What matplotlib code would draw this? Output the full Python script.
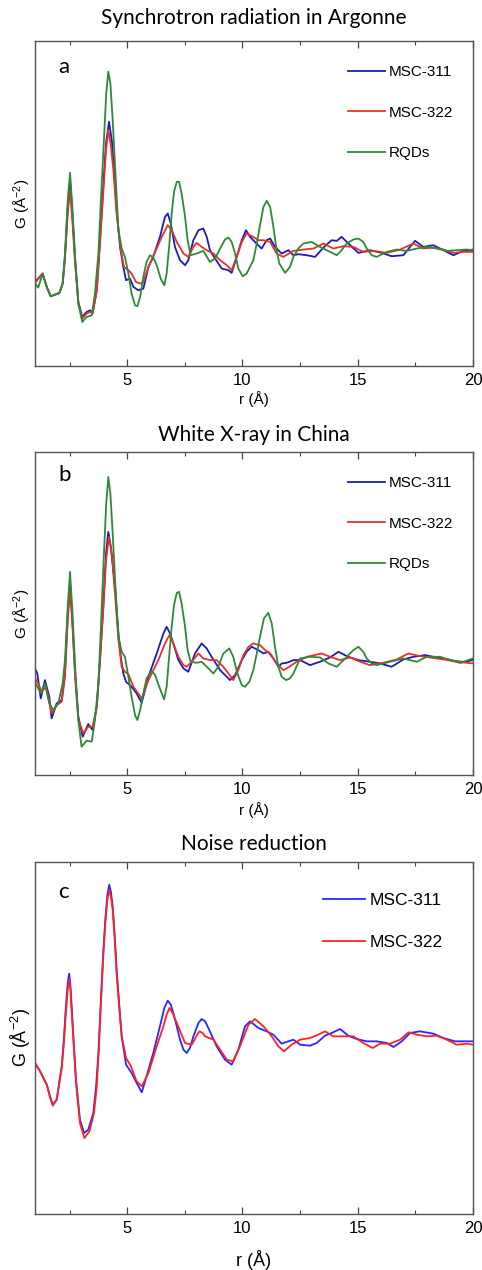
import numpy as np
import matplotlib
matplotlib.use("Agg")
import matplotlib.pyplot as plt

plt.rcParams['font.family'] = ['Liberation Sans', 'DejaVu Sans']
plt.rcParams['mathtext.default'] = 'regular'

# PDF curves G(r), columns: r (Å), G (arb. units)

# (a) Synchrotron radiation in Argonne
a_311 = np.array([
    [1.00, -0.95], [1.33, -0.70], [1.51, -1.10], [1.68, -1.38], [2.06, -1.28], [2.20, -1.00], [2.30, -0.20],
    [2.42, 1.30], [2.52, 2.10], [2.62, 1.10], [2.74, -0.30], [2.88, -1.55], [3.05, -2.00], [3.24, -1.85],
    [3.39, -1.80], [3.50, -1.88], [3.68, -1.20], [3.82, 0.30], [3.96, 1.90], [4.08, 3.20], [4.21, 3.85],
    [4.33, 3.30], [4.40, 2.70], [4.54, 1.20], [4.69, 0.10], [4.83, -0.50], [4.95, -0.90], [5.12, -0.85],
    [5.27, -1.10], [5.48, -1.20], [5.70, -1.15], [5.92, -0.50], [6.13, -0.20], [6.42, 0.40], [6.64, 1.00],
    [6.76, 1.10], [6.89, 0.80], [7.07, 0.10], [7.29, -0.30], [7.51, -0.45], [7.65, -0.30], [7.87, 0.30],
    [8.09, 0.60], [8.30, 0.65], [8.45, 0.40], [8.59, 0.00], [8.81, -0.25], [9.10, -0.55], [9.39, -0.60],
    [9.53, -0.68], [9.75, -0.20], [9.97, 0.30], [10.15, 0.60], [10.33, 0.40], [10.54, 0.25], [10.83, 0.05],
    [11.05, 0.30], [11.20, 0.35], [11.41, 0.10], [11.70, -0.10], [11.99, 0.00], [12.21, -0.15], [12.42, -0.12],
    [12.79, -0.15], [13.15, -0.20], [13.51, 0.08], [13.87, 0.30], [14.09, 0.28], [14.30, 0.40], [14.67, 0.15],
    [15.03, -0.08], [15.53, 0.00], [16.04, -0.08], [16.47, -0.18], [16.98, -0.15], [17.27, 0.10], [17.49, 0.28],
    [17.85, 0.10], [18.28, 0.15], [18.72, 0.00], [19.15, -0.15], [19.58, -0.02], [20.00, 0.02]])

a_322 = np.array([
    [1.00, -0.98], [1.33, -0.70], [1.51, -1.10], [1.68, -1.38], [2.06, -1.28], [2.20, -1.00], [2.30, -0.25],
    [2.42, 1.10], [2.52, 1.80], [2.62, 0.90], [2.74, -0.40], [2.88, -1.60], [3.05, -2.05], [3.24, -1.90],
    [3.39, -1.85], [3.50, -1.90], [3.68, -1.20], [3.82, 0.20], [3.96, 1.70], [4.08, 3.00], [4.18, 3.60],
    [4.28, 3.20], [4.40, 2.40], [4.54, 1.10], [4.72, 0.00], [4.86, -0.50], [5.05, -0.60], [5.19, -0.70],
    [5.38, -0.95], [5.56, -1.00], [5.70, -0.95], [5.92, -0.50], [6.21, -0.05], [6.50, 0.40], [6.76, 0.75],
    [6.93, 0.60], [7.15, 0.25], [7.44, -0.10], [7.65, -0.20], [7.87, 0.10], [8.01, 0.22], [8.23, 0.10],
    [8.45, 0.00], [8.74, -0.10], [9.03, -0.30], [9.32, -0.45], [9.53, -0.60], [9.75, -0.20], [9.97, 0.25],
    [10.18, 0.50], [10.47, 0.40], [10.69, 0.30], [10.91, 0.30], [11.20, 0.25], [11.48, -0.10], [11.77, -0.20],
    [12.21, -0.02], [12.64, 0.02], [13.08, 0.05], [13.51, 0.20], [13.94, 0.05], [14.38, 0.12], [14.81, 0.10],
    [15.24, -0.05], [15.68, -0.02], [16.26, -0.08], [16.84, 0.02], [17.41, 0.20], [17.85, 0.05], [18.28, 0.08],
    [18.72, 0.02], [19.15, -0.08], [19.58, -0.05], [20.00, -0.05]])

a_rqd = np.array([
    [1.00, -1.00], [1.14, -1.12], [1.33, -0.70], [1.51, -1.10], [1.68, -1.38], [2.06, -1.28], [2.20, -1.00],
    [2.30, -0.10], [2.42, 1.50], [2.52, 2.32], [2.62, 1.30], [2.74, -0.20], [2.88, -1.60], [3.05, -2.15],
    [3.24, -2.00], [3.46, -1.95], [3.60, -1.30], [3.75, -0.10], [3.86, 1.50], [3.99, 3.30], [4.09, 4.70],
    [4.18, 5.35], [4.27, 5.00], [4.37, 3.90], [4.49, 2.30], [4.62, 0.60], [4.76, 0.05], [4.90, -0.20],
    [5.05, -0.70], [5.19, -1.30], [5.34, -1.65], [5.44, -1.68], [5.56, -1.40], [5.70, -0.80], [5.84, -0.35],
    [5.99, -0.15], [6.13, -0.22], [6.28, -0.45], [6.45, -0.85], [6.61, -1.05], [6.71, -0.70], [6.83, 0.20],
    [6.93, 1.10], [7.03, 1.75], [7.15, 2.05], [7.25, 2.05], [7.36, 1.70], [7.51, 1.00], [7.62, 0.30],
    [7.75, -0.15], [8.01, -0.10], [8.30, -0.02], [8.59, -0.35], [8.81, -0.25], [9.03, 0.05], [9.24, 0.32],
    [9.39, 0.38], [9.53, 0.25], [9.68, -0.10], [9.82, -0.55], [10.01, -0.78], [10.18, -0.70], [10.47, -0.30],
    [10.62, 0.20], [10.76, 0.75], [10.91, 1.30], [11.05, 1.48], [11.20, 1.30], [11.34, 0.70], [11.48, 0.00],
    [11.60, -0.40], [11.85, -0.68], [12.06, -0.50], [12.21, -0.20], [12.42, 0.05], [12.64, 0.20], [13.00, 0.25],
    [13.36, 0.10], [13.80, -0.05], [14.09, -0.15], [14.30, 0.00], [14.52, 0.20], [14.81, 0.32], [15.03, 0.35],
    [15.24, 0.25], [15.39, 0.05], [15.61, -0.15], [15.82, -0.20], [16.26, -0.05], [16.69, 0.02], [17.12, -0.02],
    [17.56, 0.05], [17.99, 0.10], [18.43, 0.05], [18.86, -0.02], [19.29, 0.00], [19.73, 0.02], [20.00, 0.00]])

# (b) White X-ray in China
b_311 = np.array([
    [1.00, -0.25], [1.10, -0.40], [1.25, -1.15], [1.43, -0.60], [1.62, -1.10], [1.72, -1.75], [1.94, -1.30],
    [2.16, -1.20], [2.30, -0.40], [2.42, 1.40], [2.52, 2.30], [2.62, 1.20], [2.74, -0.40], [2.88, -1.70],
    [3.07, -2.30], [3.31, -1.92], [3.50, -2.10], [3.68, -1.40], [3.82, 0.00], [3.96, 1.60], [4.08, 3.20],
    [4.18, 3.85], [4.29, 3.40], [4.47, 2.20], [4.62, 0.80], [4.72, 0.10], [4.83, -0.40], [4.95, -0.65],
    [5.19, -0.80], [5.41, -1.00], [5.63, -1.28], [5.92, -0.50], [6.28, 0.20], [6.57, 0.80], [6.71, 1.00],
    [6.86, 0.80], [7.00, 0.50], [7.22, 0.00], [7.44, -0.25], [7.65, -0.35], [7.94, 0.20], [8.23, 0.50],
    [8.45, 0.35], [8.66, 0.10], [9.03, -0.30], [9.46, -0.60], [9.68, -0.45], [9.97, 0.00], [10.18, 0.25],
    [10.40, 0.40], [10.69, 0.30], [10.91, 0.20], [11.12, 0.25], [11.34, 0.05], [11.56, -0.20], [11.70, -0.10],
    [11.92, -0.08], [12.21, 0.00], [12.50, 0.00], [12.93, -0.15], [13.36, -0.05], [13.80, 0.08], [14.16, 0.25],
    [14.59, 0.10], [15.03, 0.00], [15.53, -0.05], [15.97, -0.10], [16.47, -0.20], [16.98, 0.02], [17.41, 0.10],
    [17.92, 0.15], [18.43, 0.08], [18.93, 0.02], [19.44, -0.08], [20.00, 0.00]])

b_322 = np.array([
    [1.00, -0.55], [1.14, -0.70], [1.29, -0.95], [1.48, -0.80], [1.72, -1.60], [1.94, -1.35], [2.16, -1.25],
    [2.30, -0.50], [2.42, 1.20], [2.52, 2.10], [2.62, 1.10], [2.74, -0.50], [2.88, -1.80], [3.10, -2.20],
    [3.31, -2.00], [3.50, -2.00], [3.68, -1.40], [3.82, 0.00], [3.96, 1.50], [4.08, 3.00], [4.21, 3.70],
    [4.33, 3.20], [4.47, 2.00], [4.62, 0.60], [4.76, -0.20], [4.90, -0.35], [5.05, -0.42], [5.27, -0.80],
    [5.63, -1.15], [5.92, -0.60], [6.35, 0.00], [6.64, 0.50], [6.83, 0.75], [7.00, 0.50], [7.22, 0.10],
    [7.44, -0.15], [7.58, -0.20], [7.80, -0.05], [8.09, 0.20], [8.30, 0.05], [8.59, 0.00], [8.88, 0.00],
    [9.17, -0.20], [9.39, -0.40], [9.60, -0.60], [9.82, -0.30], [10.04, 0.15], [10.26, 0.40], [10.47, 0.50],
    [10.76, 0.45], [10.98, 0.30], [11.20, 0.20], [11.48, -0.10], [11.77, -0.30], [11.92, -0.25], [12.35, -0.05],
    [12.79, 0.10], [13.44, 0.20], [13.80, 0.10], [14.23, 0.00], [14.67, 0.08], [15.10, -0.05], [15.53, -0.15],
    [16.11, -0.08], [16.69, 0.02], [17.20, 0.20], [17.70, 0.12], [18.14, 0.08], [18.72, 0.02], [19.29, -0.05],
    [20.00, -0.10]])

b_rqd = np.array([
    [1.00, -0.65], [1.10, -0.80], [1.25, -1.00], [1.43, -0.70], [1.62, -1.30], [1.80, -1.50], [2.01, -1.30],
    [2.20, -0.70], [2.30, 0.00], [2.42, 1.60], [2.52, 2.65], [2.62, 1.50], [2.74, -0.20], [2.88, -1.80],
    [3.02, -2.60], [3.24, -2.42], [3.46, -2.45], [3.60, -1.80], [3.75, -0.70], [3.86, 1.00], [3.99, 3.20],
    [4.09, 4.70], [4.18, 5.50], [4.27, 5.00], [4.37, 3.80], [4.49, 2.20], [4.62, 0.70], [4.76, 0.25],
    [4.90, 0.10], [5.05, -0.50], [5.19, -1.10], [5.34, -1.65], [5.44, -1.80], [5.56, -1.50], [5.70, -1.00],
    [5.84, -0.55], [6.06, -0.32], [6.21, -0.45], [6.39, -0.80], [6.60, -1.18], [6.71, -0.80], [6.83, 0.20],
    [6.93, 1.00], [7.03, 1.65], [7.15, 2.02], [7.25, 2.05], [7.36, 1.70], [7.51, 1.00], [7.62, 0.30],
    [7.75, -0.05], [8.01, -0.08], [8.23, -0.05], [8.45, -0.20], [8.74, -0.40], [8.95, -0.20], [9.17, 0.20],
    [9.43, 0.35], [9.60, 0.10], [9.78, -0.40], [9.97, -0.75], [10.11, -0.80], [10.30, -0.65], [10.47, -0.30],
    [10.62, 0.20], [10.76, 0.70], [10.93, 1.25], [11.12, 1.42], [11.27, 1.10], [11.41, 0.40], [11.56, -0.20],
    [11.70, -0.50], [11.89, -0.60], [12.06, -0.55], [12.21, -0.40], [12.50, 0.05], [12.93, 0.10], [13.36, 0.08],
    [13.73, -0.10], [14.09, -0.20], [14.38, 0.00], [14.59, 0.15], [14.81, 0.30], [15.03, 0.40], [15.24, 0.25],
    [15.39, 0.05], [15.61, -0.10], [15.82, -0.15], [16.40, -0.05], [16.98, 0.05], [17.56, -0.05], [17.99, 0.10],
    [18.57, 0.10], [19.00, 0.00], [19.58, -0.05], [20.00, 0.05]])

# (c) Noise reduction
c_311 = np.array([
    [1.00, -0.65], [1.22, -0.90], [1.51, -1.30], [1.65, -1.65], [1.77, -1.90], [1.94, -1.75], [2.16, -0.75],
    [2.26, 0.15], [2.34, 1.05], [2.42, 1.75], [2.48, 2.03], [2.53, 1.75], [2.59, 1.05], [2.69, -0.15],
    [2.78, -1.15], [2.95, -2.35], [3.13, -2.75], [3.31, -2.65], [3.53, -2.15], [3.65, -1.35], [3.75, -0.35],
    [3.86, 1.25], [3.96, 2.65], [4.05, 3.65], [4.14, 4.40], [4.22, 4.70], [4.29, 4.50], [4.37, 4.05],
    [4.46, 3.15], [4.54, 2.15], [4.66, 1.05], [4.76, 0.15], [4.95, -0.70], [5.19, -0.95], [5.41, -1.25],
    [5.63, -1.53], [5.84, -1.05], [6.13, -0.35], [6.42, 0.45], [6.61, 1.00], [6.76, 1.22], [6.89, 1.10],
    [7.00, 0.85], [7.15, 0.45], [7.29, 0.05], [7.44, -0.25], [7.58, -0.35], [7.72, -0.20], [7.87, 0.15],
    [8.09, 0.55], [8.23, 0.67], [8.38, 0.60], [8.52, 0.40], [8.88, -0.15], [9.24, -0.55], [9.53, -0.70],
    [9.82, -0.25], [10.11, 0.45], [10.33, 0.60], [10.69, 0.40], [11.05, 0.30], [11.34, 0.20], [11.70, -0.07],
    [11.99, 0.00], [12.21, 0.05], [12.50, -0.10], [12.93, -0.13], [13.22, -0.05], [13.58, 0.17], [13.87, 0.25],
    [14.23, 0.37], [14.59, 0.17], [14.95, 0.07], [15.39, 0.00], [15.82, 0.00], [16.26, -0.05], [16.55, -0.17],
    [16.91, 0.00], [17.27, 0.25], [17.70, 0.30], [18.28, 0.23], [18.72, 0.10], [19.22, 0.00], [19.66, 0.00],
    [20.00, 0.00]])

c_322 = np.array([
    [1.00, -0.65], [1.22, -0.90], [1.51, -1.30], [1.65, -1.67], [1.77, -1.93], [1.94, -1.75], [2.16, -0.80],
    [2.26, 0.00], [2.34, 0.85], [2.42, 1.55], [2.48, 1.85], [2.53, 1.60], [2.59, 0.90], [2.69, -0.25],
    [2.78, -1.25], [2.95, -2.45], [3.14, -2.90], [3.36, -2.70], [3.56, -2.15], [3.68, -1.35], [3.76, -0.35],
    [3.86, 1.15], [3.96, 2.55], [4.05, 3.55], [4.14, 4.25], [4.22, 4.55], [4.29, 4.35], [4.37, 3.95],
    [4.46, 3.05], [4.54, 2.05], [4.66, 0.95], [4.76, 0.15], [4.95, -0.50], [5.15, -0.73], [5.41, -1.20],
    [5.63, -1.35], [5.92, -0.95], [6.28, -0.15], [6.57, 0.45], [6.71, 0.80], [6.83, 1.00], [6.97, 0.85],
    [7.15, 0.55], [7.36, 0.20], [7.51, -0.05], [7.80, -0.10], [8.01, 0.17], [8.13, 0.30], [8.27, 0.25],
    [8.38, 0.15], [8.74, 0.05], [9.03, -0.25], [9.32, -0.55], [9.60, -0.60], [9.89, -0.15], [10.26, 0.50],
    [10.54, 0.67], [10.91, 0.45], [11.27, 0.15], [11.56, -0.15], [11.80, -0.30], [12.13, -0.10], [12.50, 0.05],
    [12.93, 0.10], [13.29, 0.20], [13.58, 0.30], [13.94, 0.15], [14.38, 0.15], [14.81, 0.15], [15.24, -0.05],
    [15.65, -0.20], [15.97, -0.07], [16.40, -0.07], [16.84, 0.05], [17.20, 0.27], [17.56, 0.20], [17.99, 0.15],
    [18.43, 0.17], [18.86, 0.05], [19.29, -0.10], [19.73, -0.07], [20.00, -0.10]])

titles = ['Synchrotron radiation in Argonne', 'White X-ray in China', 'Noise reduction']
letters = ['a', 'b', 'c']
labels = ['MSC-311', 'MSC-322', 'RQDs']

fig = plt.figure(figsize=(4.82, 12.7), dpi=100)
W, H = 482, 1270


def add_panel(top, bottom):
    # axes placed from pixel edges
    return fig.add_axes([35 / W, 1 - bottom / H, 438 / W, (bottom - top) / H])


def style(ax, ylim, fs):
    ax.set_xlim(1, 20)
    ax.set_ylim(*ylim)
    ax.set_xticks([5, 10, 15, 20])
    ax.set_xticks([2.5, 7.5, 12.5, 17.5], minor=True)
    ax.set_yticks([])
    ax.tick_params(axis='x', which='both', direction='in', top=True, labelsize=fs, pad=5,
                   color='#444444')
    ax.tick_params(axis='x', which='major', length=5, width=0.9)
    ax.tick_params(axis='x', which='minor', length=3, width=0.8)
    for s in ax.spines.values():
        s.set_color('#555555')
        s.set_linewidth(1.0)


# top px, bottom px, ylim, title centre px, letter offset px, xlabel offset px
panels = [
    (41, 366, (-3.47, 6.27), 18, 26, 25),
    (452, 775, (-3.45, 6.25), 435, 23, 27),
    (862, 1214, (-5.18, 5.38), 844, 30, 36),
]

axes = [add_panel(p[0], p[1]) for p in panels]

ax = axes[0]
ax.plot(a_311[:, 0], a_311[:, 1], color='#1c1cb4', lw=1.3, label=labels[0])
ax.plot(a_322[:, 0], a_322[:, 1], color='#e8302c', lw=1.3, label=labels[1])
ax.plot(a_rqd[:, 0], a_rqd[:, 1], color='#2e8a36', lw=1.3, label=labels[2])

ax = axes[1]
ax.plot(b_311[:, 0], b_311[:, 1], color='#1c1cb4', lw=1.3, label=labels[0])
ax.plot(b_322[:, 0], b_322[:, 1], color='#e8302c', lw=1.3, label=labels[1])
ax.plot(b_rqd[:, 0], b_rqd[:, 1], color='#2e8a36', lw=1.3, label=labels[2])

ax = axes[2]
ax.plot(c_311[:, 0], c_311[:, 1], color='#2828ff', lw=1.3, label=labels[0])
ax.plot(c_322[:, 0], c_322[:, 1], color='#ff2222', lw=1.3, label=labels[1])

for i, ax in enumerate(axes):
    top, bottom, ylim, ty, ly, xl = panels[i]
    h = bottom - top
    big = (i == 2)
    style(ax, ylim, 12)
    fig.text(254 / W, 1 - ty / H, titles[i], ha='center', va='center', fontsize=15,
             family=['Lato', 'DejaVu Sans'])
    ax.text(23 / 438, 1 - ly / h, letters[i], transform=ax.transAxes, ha='left', va='center',
            fontsize=16, family=['Lato', 'DejaVu Sans'])
    ax.set_xlabel('r (Å)', fontsize=13 if big else 11)
    ax.set_ylabel('G (Å$^{-2}$)', fontsize=13 if big else 11)
    ax.yaxis.set_label_coords(-2 / 438, 0.5)
    ax.xaxis.set_label_coords(0.5, -xl / h)
    if big:
        ax.legend(loc='upper left', bbox_to_anchor=(288 / 438, 1 - 31 / h), frameon=False,
                  fontsize=12.5, handlelength=2.4, handletextpad=0.3, labelspacing=1.55,
                  borderpad=0, borderaxespad=0)
    else:
        ax.legend(loc='upper left', bbox_to_anchor=(313 / 438, 1 - 24 / h), frameon=False,
                  fontsize=11, handlelength=2.4, handletextpad=0.3, labelspacing=1.75,
                  borderpad=0, borderaxespad=0)

fig.savefig('out.png', dpi=100)
